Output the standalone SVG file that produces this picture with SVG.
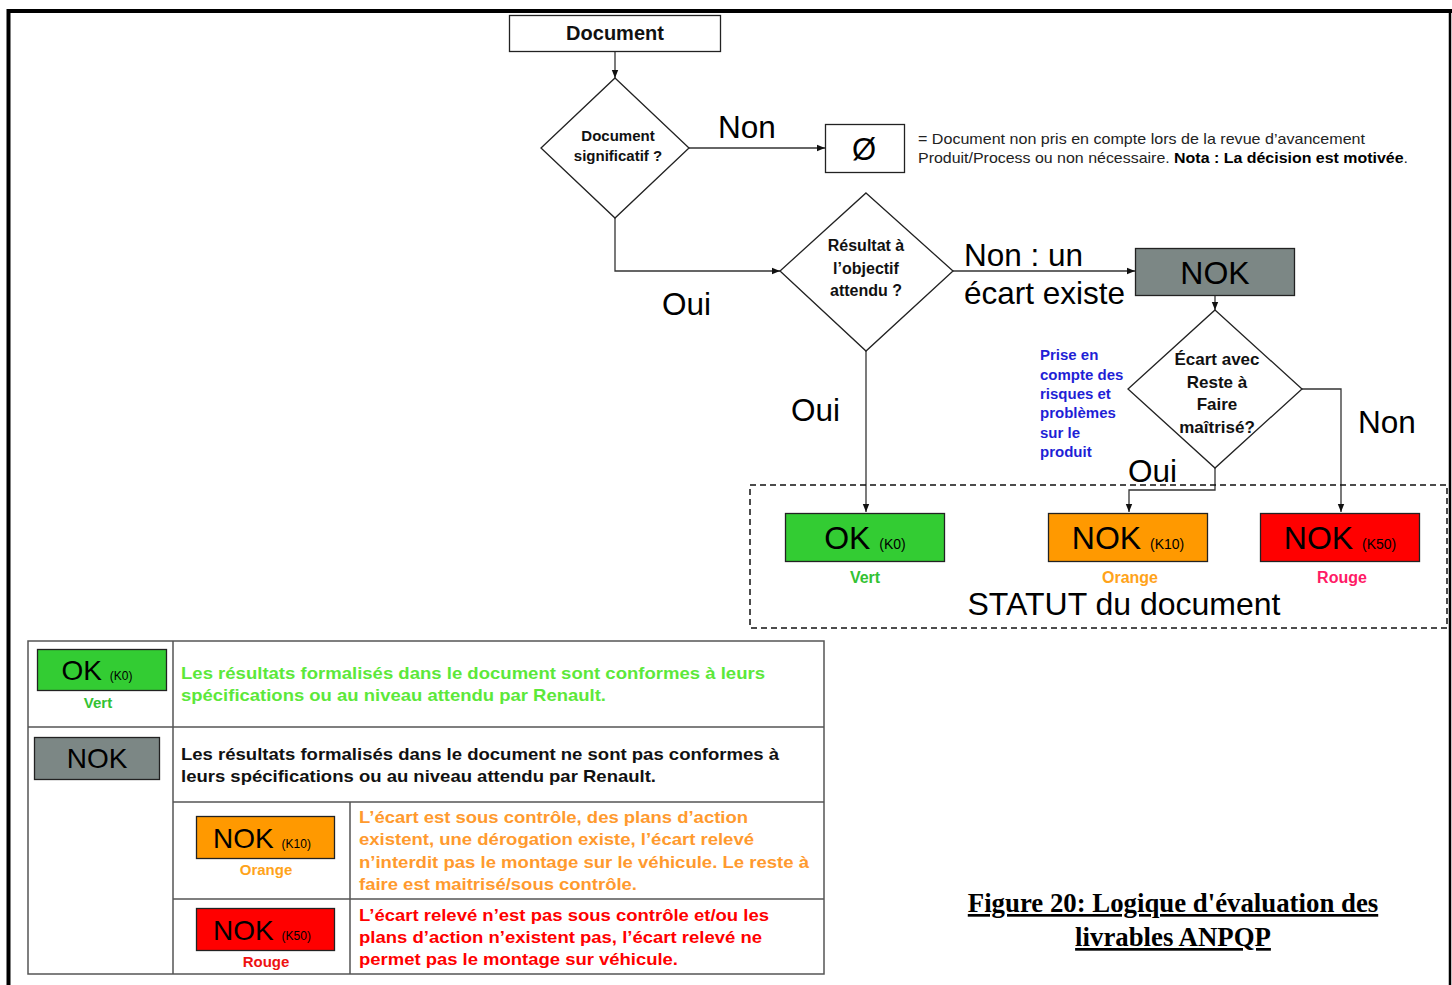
<svg xmlns="http://www.w3.org/2000/svg" width="1452" height="985" viewBox="0 0 1452 985">
  <style>
    .sans { font-family: "Liberation Sans", Arial, sans-serif; }
    .b { font-weight: bold; }
    .box { stroke: #222; stroke-width: 1.3; }
    .shape { fill: #fff; stroke: #222; stroke-width: 1.3; }
    .line { fill: none; stroke: #333; stroke-width: 1.3; }
    .lbl { font-family: "Liberation Sans", Arial, sans-serif; font-size: 31.5px; fill: #000; }
    .q { font-family: "Liberation Sans", Arial, sans-serif; font-weight: bold; fill: #111; text-anchor: middle; }
    .grid { fill: none; stroke: #555; stroke-width: 1.5; }
    .green { fill: #33cc33; }
    .grey { fill: #7c8785; }
    .orange { fill: #ff9900; }
    .red { fill: #ff0000; }
    .big { font-family: "Liberation Sans", Arial, sans-serif; fill: #000; text-anchor: middle; }
    .t-vert { fill: #33c233; }
    .t-orange { fill: #ffa31a; }
    .t-rouge { fill: #ff1a66; }
    .t-rouge2 { fill: #ee1111; }
  </style>
  <defs>
    <marker id="arr" viewBox="0 0 10 10" refX="10" refY="5" markerWidth="8" markerHeight="8" markerUnits="userSpaceOnUse" orient="auto">
      <path d="M0,1 L10,5 L0,9 Z" fill="#111"/>
    </marker>
  </defs>

  <rect width="1452" height="985" fill="#fff"/>

  <!-- page frame -->
  <g id="frame" fill="none" stroke="#000">
    <path d="M8.5,985 V11 H1452" stroke-width="4"/>
    <path d="M1450,11 V985" stroke-width="2.5"/>
  </g>

  <!-- connectors -->
  <g id="connectors">
    <path class="line" d="M615,51 V78" marker-end="url(#arr)"/>
    <path class="line" d="M689,148 H825" marker-end="url(#arr)"/>
    <path class="line" d="M615,218 V271 H780" marker-end="url(#arr)"/>
    <path class="line" d="M953,271 H1135" marker-end="url(#arr)"/>
    <path class="line" d="M1215,296 V310" marker-end="url(#arr)"/>
    <path class="line" d="M866,351 V512" marker-end="url(#arr)"/>
    <path class="line" d="M1215,468 V490 H1129 V512" marker-end="url(#arr)"/>
    <path class="line" d="M1302,389 H1341 V512" marker-end="url(#arr)"/>
    <text class="lbl" x="718" y="138">Non</text>
    <text class="lbl" x="662" y="315">Oui</text>
    <text class="lbl" x="964" y="266">Non : un</text>
    <text class="lbl" x="964" y="304">écart existe</text>
    <text class="lbl" x="791" y="421">Oui</text>
    <text class="lbl" x="1128" y="482">Oui</text>
    <text class="lbl" x="1358" y="433">Non</text>
  </g>

  <!-- flowchart nodes -->
  <g id="node-document">
    <rect class="shape" x="509.5" y="15.5" width="211" height="36"/>
    <text class="q" x="615" y="40" font-size="20">Document</text>
  </g>

  <g id="node-significatif">
    <polygon class="shape" points="615,78 689,148 615,218 541,148"/>
    <text class="q" x="618" y="141" font-size="15">Document</text>
    <text class="q" x="618" y="161" font-size="15">significatif ?</text>
  </g>

  <g id="node-vide">
    <rect class="shape" x="825.5" y="124.5" width="79" height="48"/>
    <text class="big" x="864" y="160" font-size="31">Ø</text>
    <text class="sans" x="918" y="144" font-size="15" fill="#222" textLength="447" lengthAdjust="spacingAndGlyphs">= Document non pris en compte lors de la revue d’avancement</text>
    <text class="sans" x="918" y="163" font-size="15" fill="#222" textLength="490" lengthAdjust="spacingAndGlyphs">Produit/Process ou non nécessaire. <tspan class="b" fill="#000">Nota : La décision est motivée</tspan>.</text>
  </g>

  <g id="node-resultat">
    <polygon class="shape" points="866,193 953,271 866,351 780,271"/>
    <text class="q" x="866" y="251" font-size="16">Résultat à</text>
    <text class="q" x="866" y="274" font-size="16">l’objectif</text>
    <text class="q" x="866" y="296" font-size="16">attendu ?</text>
  </g>

  <g id="node-nok">
    <rect class="box grey" x="1135.5" y="248.5" width="159" height="47"/>
    <text class="big" x="1215" y="284" font-size="32">NOK</text>
  </g>

  <g id="node-ecart">
    <polygon class="shape" points="1215,310 1302,389 1215,468 1128,389"/>
    <text class="q" x="1217" y="365" font-size="17">Écart avec</text>
    <text class="q" x="1217" y="388" font-size="17">Reste à</text>
    <text class="q" x="1217" y="410" font-size="17">Faire</text>
    <text class="q" x="1217" y="433" font-size="17">maîtrisé?</text>
  </g>

  <g id="note-risques" class="sans b" font-size="15" fill="#1f1fd6">
    <text x="1040" y="360">Prise en</text>
    <text x="1040" y="380">compte des</text>
    <text x="1040" y="399">risques et</text>
    <text x="1040" y="418">problèmes</text>
    <text x="1040" y="438">sur le</text>
    <text x="1040" y="457">produit</text>
  </g>

  <!-- document status area -->
  <g id="statut">
    <rect x="750" y="485" width="697" height="143" fill="none" stroke="#111" stroke-width="1.5" stroke-dasharray="6,4"/>
    <text class="big" x="1124" y="615" font-size="32">STATUT du document</text>
  </g>

  <g id="node-ok">
    <rect class="box green" x="785.5" y="513.5" width="159" height="48"/>
    <text class="big" x="865" y="549" font-size="32">OK <tspan font-size="14">(K0)</tspan></text>
    <text class="q t-vert" x="865" y="583" font-size="16">Vert</text>
  </g>

  <g id="node-nok-k10">
    <rect class="box orange" x="1048.5" y="513.5" width="159" height="48"/>
    <text class="big" x="1128" y="549" font-size="32">NOK <tspan font-size="14">(K10)</tspan></text>
    <text class="q t-orange" x="1130" y="583" font-size="16">Orange</text>
  </g>

  <g id="node-nok-k50">
    <rect class="box red" x="1260.5" y="513.5" width="159" height="48"/>
    <text class="big" x="1340" y="549" font-size="32">NOK <tspan font-size="14">(K50)</tspan></text>
    <text class="q t-rouge" x="1342" y="583" font-size="16">Rouge</text>
  </g>

  <!-- legend table -->
  <g id="legend">
    <rect class="grid" x="28" y="641" width="796" height="333"/>
    <path class="grid" d="M173,641 V974 M28,727 H824 M173,802 H824 M350,802 V974 M173,899 H824"/>

    <rect class="box green" x="37.5" y="649.5" width="129" height="41"/>
    <text class="big" x="97" y="680" font-size="28">OK <tspan font-size="12">(K0)</tspan></text>
    <text class="q t-vert" x="98" y="708" font-size="15">Vert</text>
    <text class="sans b" font-size="17" fill="#5ce83a">
      <tspan x="181" y="679" textLength="584" lengthAdjust="spacingAndGlyphs">Les résultats formalisés dans le document sont conformes à leurs</tspan>
      <tspan x="181" y="701" textLength="425" lengthAdjust="spacingAndGlyphs">spécifications ou au niveau attendu par Renault.</tspan>
    </text>

    <rect class="box grey" x="34.5" y="737.5" width="125" height="42"/>
    <text class="big" x="97" y="768" font-size="28">NOK</text>
    <text class="sans b" font-size="17" fill="#111">
      <tspan x="181" y="760" textLength="598" lengthAdjust="spacingAndGlyphs">Les résultats formalisés dans le document ne sont pas conformes à</tspan>
      <tspan x="181" y="782" textLength="475" lengthAdjust="spacingAndGlyphs">leurs spécifications ou au niveau attendu par Renault.</tspan>
    </text>

    <rect class="box orange" x="196.5" y="816.5" width="138" height="42"/>
    <text class="big" x="262" y="848" font-size="28">NOK <tspan font-size="12">(K10)</tspan></text>
    <text class="q t-orange" x="266" y="875" font-size="15">Orange</text>
    <text class="sans b" font-size="17" fill="#ff9a2e">
      <tspan x="359" y="823" textLength="389" lengthAdjust="spacingAndGlyphs">L’écart est sous contrôle, des plans d’action</tspan>
      <tspan x="359" y="845" textLength="395" lengthAdjust="spacingAndGlyphs">existent, une dérogation existe, l’écart relevé</tspan>
      <tspan x="359" y="868" textLength="450" lengthAdjust="spacingAndGlyphs">n’interdit pas le montage sur le véhicule. Le reste à</tspan>
      <tspan x="359" y="890" textLength="278" lengthAdjust="spacingAndGlyphs">faire est maitrisé/sous contrôle.</tspan>
    </text>

    <rect class="box red" x="196.5" y="908.5" width="138" height="42"/>
    <text class="big" x="262" y="940" font-size="28">NOK <tspan font-size="12">(K50)</tspan></text>
    <text class="q t-rouge2" x="266" y="967" font-size="15">Rouge</text>
    <text class="sans b" font-size="17" fill="#ff0000">
      <tspan x="359" y="921" textLength="410" lengthAdjust="spacingAndGlyphs">L’écart relevé n’est pas sous contrôle et/ou les</tspan>
      <tspan x="359" y="943" textLength="403" lengthAdjust="spacingAndGlyphs">plans d’action n’existent pas, l’écart relevé ne</tspan>
      <tspan x="359" y="965" textLength="319" lengthAdjust="spacingAndGlyphs">permet pas le montage sur véhicule.</tspan>
    </text>
  </g>

  <!-- caption -->
  <g id="caption" font-family="'Liberation Serif', 'Times New Roman', serif" font-weight="bold" font-size="26.8" fill="#000" text-anchor="middle" text-decoration="underline">
    <text x="1173" y="912">Figure 20: Logique d'évaluation des</text>
    <text x="1173" y="946">livrables ANPQP</text>
  </g>
</svg>
